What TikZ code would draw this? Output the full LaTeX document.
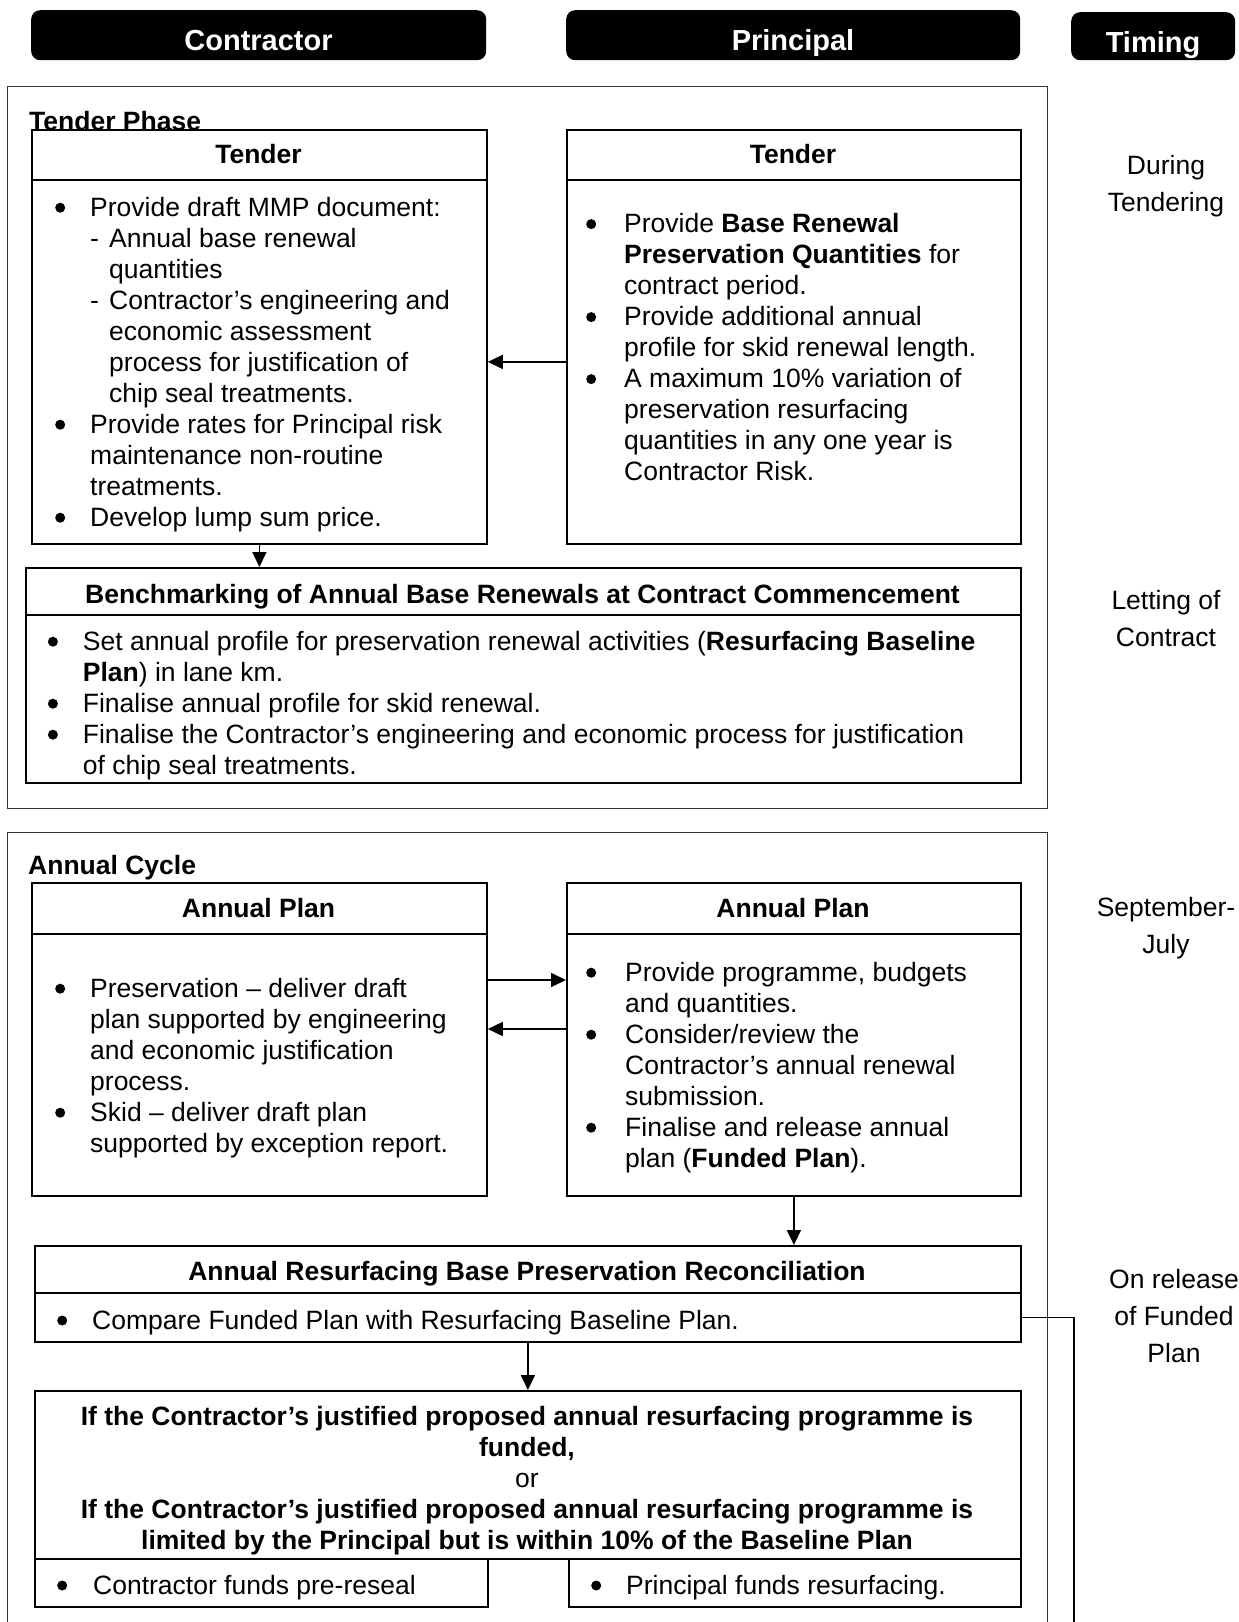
\documentclass[tikz,border=0pt]{standalone}
\usepackage{fontspec}
\setmainfont{Liberation Sans}
\usetikzlibrary{arrows.meta}
\newcommand\bodyfont{\fontsize{26.5}{31}\selectfont}
\newcommand\timefont{\fontsize{26.5}{37}\selectfont}
\newcommand\pillfont{\fontsize{29}{34}\selectfont\bfseries}
\newcommand\bulletdot{\tikz[baseline=0pt,x=1pt,y=1pt]\fill[black] (0,8.5) circle[radius=5];}
\newcommand\bu[1]{\llap{\bulletdot\hspace{#1}}}
\newcommand\dsh{\makebox[19pt][l]{-}}
\newcommand\ind{\hspace*{19pt}}
\begin{document}
\begin{tikzpicture}[x=1pt,y=-1pt,
  pill/.style={fill=black, rounded corners=9pt, inner sep=0, anchor=north west},
  pilltext/.style={text=white, font=\pillfont, anchor=base, inner sep=0},
  phase/.style={draw=black!80, line width=1.2pt, inner sep=0, anchor=north west},
  cell/.style={draw, line width=1.8pt, fill=white, inner sep=0, anchor=north west},
  head/.style={font=\bodyfont\bfseries, anchor=base, inner sep=0},
  body/.style={font=\bodyfont, align=left, anchor=north west, inner sep=0},
  oneline/.style={font=\bodyfont, anchor=base west, inner sep=0},
  cond/.style={font=\bodyfont, align=center, anchor=north, inner sep=0},
  timing/.style={font=\timefont, align=center, anchor=north, inner sep=0},
  arr/.style={line width=1.7pt, -{Triangle[length=15pt,width=14pt]}},
  link/.style={line width=1.3pt},
  phaselabel/.style={font=\bodyfont\bfseries, anchor=base west, inner sep=0}
]
\useasboundingbox (0,0) rectangle (1239,1622);
\clip (0,0) rectangle (1239,1622);

% column headers
\node[pill, minimum width=455pt, minimum height=50pt] (pc) at (31,10) {};
\node[pilltext] (pct) at (258.5,50) {Contractor};
\node[pill, minimum width=454pt, minimum height=50pt] (pp) at (566,10) {};
\node[pilltext] (ppt) at (793,50) {Principal};
\node[pill, minimum width=164pt, minimum height=48pt] (pt) at (1071,12) {};
\node[pilltext] (ptt) at (1153,52) {Timing};

% phase frames
\node[phase, minimum width=1040pt, minimum height=722pt] (tphase) at (7,86) {};
\node[phaselabel] (tpl) at (29,130) {Tender Phase};
\node[phase, minimum width=1040pt, minimum height=830pt] (aphase) at (7,832) {};
\node[phaselabel] (acl) at (28,874) {Annual Cycle};

% cells
\node[cell, minimum width=455pt, minimum height=50pt] (tch) at (31,129) {};
\node[cell, minimum width=455pt, minimum height=364pt] (tcb) at (31,179) {};
\node[cell, minimum width=454pt, minimum height=50pt] (tph) at (566,129) {};
\node[cell, minimum width=454pt, minimum height=364pt] (tpb) at (566,179) {};
\node[cell, minimum width=995pt, minimum height=47pt] (bh) at (25,567) {};
\node[cell, minimum width=995pt, minimum height=168pt] (bb) at (25,614) {};
\node[cell, minimum width=455pt, minimum height=51pt] (ach) at (31,882) {};
\node[cell, minimum width=455pt, minimum height=262pt] (acb) at (31,933) {};
\node[cell, minimum width=454pt, minimum height=51pt] (aph) at (566,882) {};
\node[cell, minimum width=454pt, minimum height=262pt] (apb) at (566,933) {};
\node[cell, minimum width=986pt, minimum height=47pt] (rh) at (34,1245) {};
\node[cell, minimum width=986pt, minimum height=49pt] (rb) at (34,1292) {};
\node[cell, minimum width=986pt, minimum height=168pt] (cq) at (34,1390) {};
\node[cell, minimum width=453pt, minimum height=48pt] (cl) at (34,1558) {};
\node[cell, minimum width=452pt, minimum height=48pt] (cr) at (568,1558) {};

% headings
\node[head] (tcht) at (258.5,163.5) {Tender};
\node[head] (tpht) at (793,163.5) {Tender};
\node[head] (bht) at (522.5,603) {Benchmarking of Annual Base Renewals at Contract Commencement};
\node[head] (acht) at (258.5,917) {Annual Plan};
\node[head] (apht) at (793,917) {Annual Plan};
\node[head] (rht) at (527,1280) {Annual Resurfacing Base Preservation Reconciliation};

% bodies
\node[body] (tcbt) at (90,194.3) {%
\strut\bu{25pt}Provide draft MMP document:\\
\strut\dsh Annual base renewal\\
\strut\ind quantities\\
\strut\dsh Contractor’s engineering and\\
\strut\ind economic assessment\\
\strut\ind process for justification of\\
\strut\ind chip seal treatments.\\
\strut\bu{25pt}Provide rates for Principal risk\\
\strut maintenance non-routine\\
\strut treatments.\\
\strut\bu{25pt}Develop lump sum price.};

\node[body] (tpbt) at (624,210.7) {%
\strut\bu{28pt}Provide \textbf{Base Renewal}\\
\strut\textbf{Preservation Quantities} for\\
\strut contract period.\\
\strut\bu{28pt}Provide additional annual\\
\strut profile for skid renewal length.\\
\strut\bu{28pt}A maximum 10\% variation of\\
\strut preservation resurfacing\\
\strut quantities in any one year is\\
\strut Contractor Risk.};

\node[body] (bbt) at (82.7,628.3) {%
\strut\bu{25pt}Set annual profile for preservation renewal activities (\textbf{Resurfacing Baseline}\\
\strut\textbf{Plan}) in lane km.\\
\strut\bu{25pt}Finalise annual profile for skid renewal.\\
\strut\bu{25pt}Finalise the Contractor’s engineering and economic process for justification\\
\strut of chip seal treatments.};

\node[body] (acbt) at (90,975.3) {%
\strut\bu{25pt}Preservation – deliver draft\\
\strut plan supported by engineering\\
\strut and economic justification\\
\strut process.\\
\strut\bu{25pt}Skid – deliver draft plan\\
\strut supported by exception report.};

\node[body] (apbt) at (625,959.3) {%
\strut\bu{29pt}Provide programme, budgets\\
\strut and quantities.\\
\strut\bu{29pt}Consider/review the\\
\strut Contractor’s annual renewal\\
\strut submission.\\
\strut\bu{29pt}Finalise and release annual\\
\strut plan (\textbf{Funded Plan}).};

\node[oneline] (rbt) at (92,1329) {\bu{25pt}Compare Funded Plan with Resurfacing Baseline Plan.};

\node[cond] (cqt) at (527,1403.3) {%
\strut\textbf{If the Contractor’s justified proposed annual resurfacing programme is}\\
\strut\textbf{funded,}\\
\strut or\\
\strut\textbf{If the Contractor’s justified proposed annual resurfacing programme is}\\
\strut\textbf{limited by the Principal but is within 10\% of the Baseline Plan}};

\node[oneline] (clt) at (93,1594) {\bu{26pt}Contractor funds pre-reseal};
\node[oneline] (crt) at (626,1594) {\bu{25pt}Principal funds resurfacing.};

% timing column
\node[timing] (t1) at (1166,148.6) {\strut During\\\strut Tendering};
\node[timing] (t2) at (1166,583.1) {\strut Letting of\\\strut Contract};
\node[timing] (t3) at (1166,890.1) {\strut September-\\\strut July};
\node[timing] (t4) at (1174,1262.1) {\strut On release\\\strut of Funded\\\strut Plan};

% connectors
\draw[arr] (tpb.west) -- (tcb.east);
\draw[arr] (tcb.south) -- (tcb.south |- bh.north);
\draw[arr] (acb.east |- 0,980) -- (apb.west |- 0,980);
\draw[arr] (apb.west |- 0,1029) -- (acb.east |- 0,1029);
\draw[arr] (apb.south) -- (apb.south |- rh.north);
\draw[arr] (rb.south) -- (cq.north);
\coordinate (linkend) at (1074,1640);
\draw[link] (rb.east) -| (linkend);
\end{tikzpicture}
\end{document}
